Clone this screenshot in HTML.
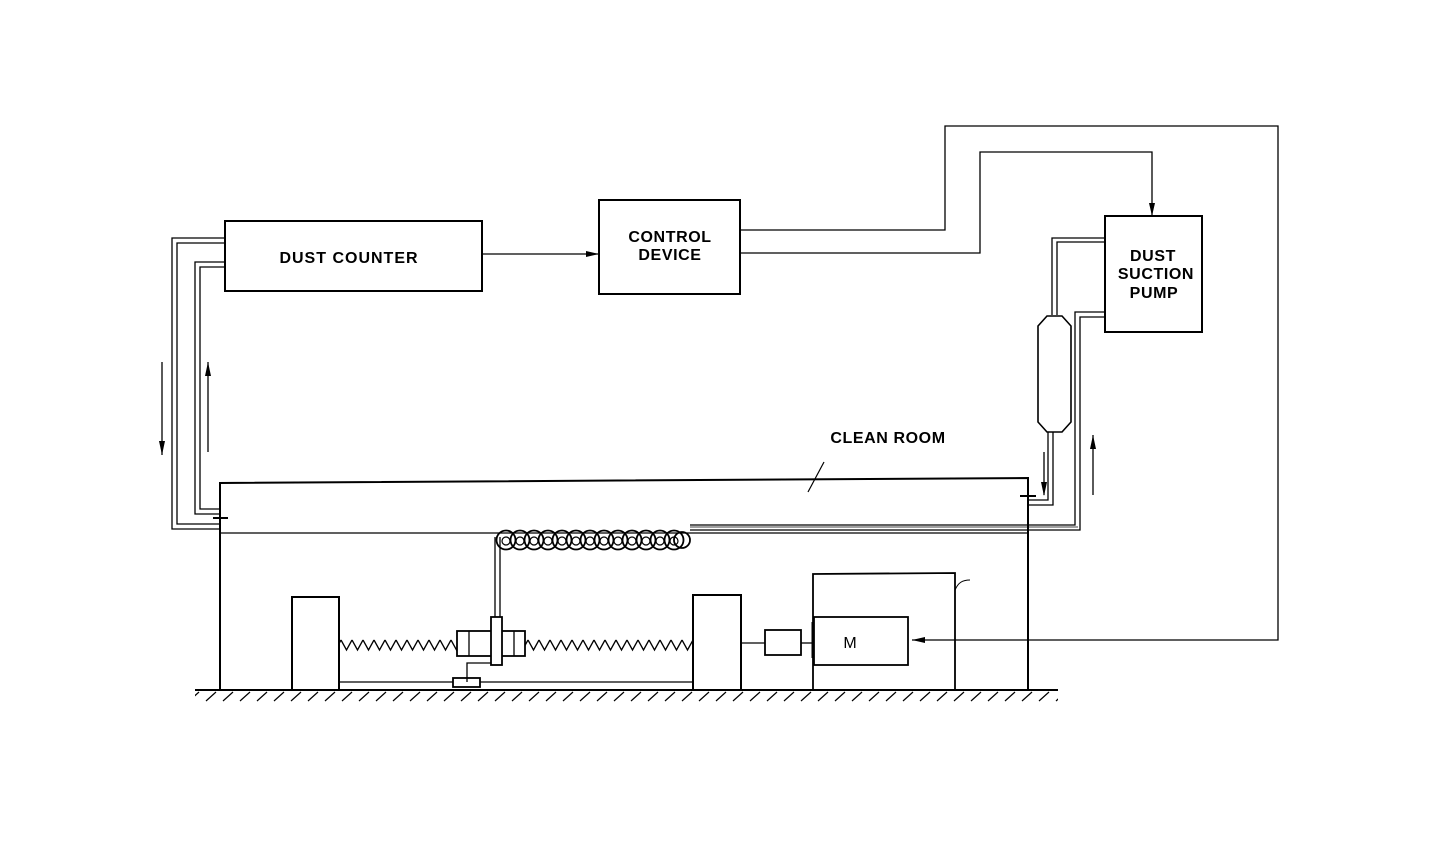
<!DOCTYPE html>
<html><head><meta charset="utf-8"><style>html,body{margin:0;padding:0;background:#fff}svg{display:block}</style></head>
<body>
<svg width="1440" height="864" viewBox="0 0 1440 864" xmlns="http://www.w3.org/2000/svg" font-family="Liberation Sans, sans-serif">
<defs>
<pattern id="zz" x="0" y="636" width="11" height="18" patternUnits="userSpaceOnUse">
<path d="M0,4 L5.5,14 L11,4" fill="none" stroke="#000" stroke-width="1.3"/>
</pattern>
<pattern id="hatch" x="0" y="690" width="17" height="12" patternUnits="userSpaceOnUse">
<path d="M2,11 L12,2" stroke="#000" stroke-width="1.2"/>
</pattern>
</defs>
<g fill="none" stroke="#000" stroke-width="2">
<rect x="225" y="221" width="257" height="70"/>
<rect x="599" y="200" width="141" height="94"/>
<rect x="1105" y="216" width="97" height="116"/>
</g>
<g fill="none" stroke="#000" stroke-width="1.3">
<line x1="482" y1="254" x2="599" y2="254"/>
<polyline points="740,230 945,230 945,126 1278,126 1278,640 912,640"/>
<polyline points="740,253 980,253 980,152 1152,152 1152,216"/>
<polyline points="225,238 172,238 172,529 220,529"/>
<polyline points="225,243 177,243 177,524 220,524"/>
<polyline points="225,262 195,262 195,514 220,514"/>
<polyline points="225,267 200,267 200,509 220,509"/>
<polyline points="1105,238 1052,238 1052,315"/>
<polyline points="1105,242 1057,242 1057,315"/>
<polyline points="1048,432 1048,500 1028,500"/>
<polyline points="1053,432 1053,505 1028,505"/>
<polyline points="1105,312 1075,312 1075,525 690,525"/>
<polyline points="1105,317 1080,317 1080,530 690,530"/>
<line x1="690" y1="527" x2="1078" y2="527" stroke-width="0.8"/>
<path d="M1038,326 L1047,316 L1062,316 L1071,326 L1071,422 L1062,432 L1047,432 L1038,422 Z" stroke-width="1.6"/>
<line x1="162" y1="362" x2="162" y2="455"/>
<line x1="208" y1="362" x2="208" y2="452"/>
<line x1="1044" y1="452" x2="1044" y2="495"/>
<line x1="1093" y1="435" x2="1093" y2="495"/>
</g>
<g fill="#000">
<path d="M159,441 L165,441 L162,455Z"/>
<path d="M205,376 L211,376 L208,362Z"/>
<path d="M1041,482 L1047,482 L1044,496Z"/>
<path d="M1090,449 L1096,449 L1093,435Z"/>
<path d="M1149,203 L1155,203 L1152,216Z"/>
<path d="M586,251 L599,254 L586,257Z"/>
<path d="M925,637 L912,640 L925,643Z"/>
</g>
<g fill="none" stroke="#000" stroke-width="2">
<polyline points="220,690 220,483 1028,478 1028,690"/>
<line x1="220" y1="533" x2="1028" y2="533" stroke-width="1.3"/>
<line x1="213" y1="518" x2="228" y2="518"/>
<line x1="1020" y1="496" x2="1036" y2="496"/>
<line x1="808" y1="492" x2="824" y2="462" stroke-width="1.2"/>
<line x1="195" y1="690" x2="1058" y2="690"/>
</g>
<rect x="195" y="690" width="863" height="12" fill="url(#hatch)"/>
<g fill="none" stroke="#000" stroke-width="1.8">
<circle cx="506" cy="540" r="9.5"/><circle cx="520" cy="540" r="9.5"/><circle cx="534" cy="540" r="9.5"/><circle cx="548" cy="540" r="9.5"/><circle cx="562" cy="540" r="9.5"/><circle cx="576" cy="540" r="9.5"/><circle cx="590" cy="540" r="9.5"/><circle cx="604" cy="540" r="9.5"/><circle cx="618" cy="540" r="9.5"/><circle cx="632" cy="540" r="9.5"/><circle cx="646" cy="540" r="9.5"/><circle cx="660" cy="540" r="9.5"/><circle cx="674" cy="540" r="9.5"/><circle cx="682" cy="540" r="8"/>
</g>
<g fill="none" stroke="#000" stroke-width="1.2">
<circle cx="506" cy="541" r="4"/><circle cx="520" cy="541" r="4"/><circle cx="534" cy="541" r="4"/><circle cx="548" cy="541" r="4"/><circle cx="562" cy="541" r="4"/><circle cx="576" cy="541" r="4"/><circle cx="590" cy="541" r="4"/><circle cx="604" cy="541" r="4"/><circle cx="618" cy="541" r="4"/><circle cx="632" cy="541" r="4"/><circle cx="646" cy="541" r="4"/><circle cx="660" cy="541" r="4"/><circle cx="674" cy="541" r="4"/>
</g>
<g fill="none" stroke="#000" stroke-width="1.3">
<line x1="495" y1="537" x2="495" y2="617"/>
<line x1="500" y1="537" x2="500" y2="617"/>
<rect x="292" y="597" width="47" height="93" stroke-width="2"/>
<rect x="693" y="595" width="48" height="95" stroke-width="2"/>
<line x1="339" y1="682" x2="693" y2="682"/>
<rect x="453" y="678" width="27" height="9" fill="#fff" stroke-width="1.8"/>
<polyline points="467,682 467,663 491,663"/>
<rect x="457" y="631" width="68" height="25" stroke-width="1.8" fill="#fff"/>
<line x1="469" y1="631" x2="469" y2="656"/>
<line x1="514" y1="631" x2="514" y2="656"/>
<rect x="491" y="617" width="11" height="48" stroke-width="1.8" fill="#fff"/>
<line x1="741" y1="643" x2="765" y2="643"/>
<rect x="765" y="630" width="36" height="25" stroke-width="1.8"/>
<line x1="801" y1="643" x2="814" y2="643"/>
<line x1="813" y1="622" x2="813" y2="658" stroke-width="3"/>
<rect x="814" y="617" width="94" height="48" stroke-width="1.8"/>
<polyline points="813,690 813,574 955,573 955,690" stroke-width="1.8"/>
<path d="M955,590 C958,583 962,580 970,580" stroke-width="1"/>
</g>
<rect x="339" y="636" width="118" height="18" fill="url(#zz)"/>
<rect x="525" y="636" width="168" height="18" fill="url(#zz)"/>
<g font-weight="bold" font-size="16" text-anchor="middle" fill="#000" letter-spacing="0.6">
<text x="349" y="263" letter-spacing="1">DUST  COUNTER</text>
<text x="670" y="242">CONTROL</text>
<text x="670" y="260">DEVICE</text>
<text x="1153" y="261">DUST</text>
<text x="1156" y="279">SUCTION</text>
<text x="1154" y="298">PUMP</text>
<text x="888" y="443">CLEAN ROOM</text>
</g>
<text x="850" y="648" font-size="16" text-anchor="middle">M</text>
</svg>
</body></html>
